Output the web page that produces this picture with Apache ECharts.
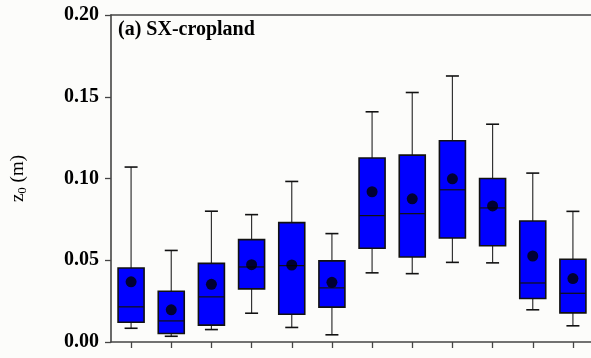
<!DOCTYPE html>
<html>
<head>
<meta charset="utf-8">
<script src="https://cdn.jsdelivr.net/npm/echarts@6/dist/echarts.min.js"></script>
<style>
html,body{margin:0;padding:0;background:#fcfcfa;}
#c{width:591px;height:358px;}
</style>
</head>
<body>
<div id="c"></div>
<script>
var categories = ['1','2','3','4','5','6','7','8','9','10','11','12'];
var whiskerLow = [0.0084,0.0035,0.0076,0.0176,0.0089,0.0044,0.0423,0.0418,0.0487,0.0484,0.0197,0.0099];
var q1Values   = [0.0121,0.0052,0.0103,0.0325,0.0170,0.0213,0.0573,0.0520,0.0636,0.0589,0.0266,0.0178];
var medians    = [0.0215,0.0129,0.0276,0.0459,0.0467,0.0331,0.0773,0.0785,0.0931,0.0820,0.0361,0.0298];
var q3Values   = [0.0453,0.0310,0.0481,0.0626,0.0730,0.0496,0.1125,0.1143,0.1231,0.1000,0.0740,0.0506];
var whiskerHigh= [0.1070,0.0560,0.0800,0.0779,0.0982,0.0663,0.1408,0.1526,0.1627,0.1332,0.1033,0.0799];
var means      = [0.0368,0.0197,0.0353,0.0473,0.0471,0.0365,0.0919,0.0876,0.0998,0.0832,0.0526,0.0388];
var yTicks = ['0.00','0.05','0.10','0.15','0.20'];

var boxData = categories.map(function(c,i){
  return [i, whiskerLow[i], q1Values[i], medians[i], q3Values[i], whiskerHigh[i]];
});
var meanData = categories.map(function(c,i){ return [i, means[i]]; });

var chart = echarts.init(document.getElementById('c'), null, {renderer:'canvas'});
var axisColor = '#444';
function renderBox(params, api){
  var x = api.value(0);
  var pLow = api.coord([x, api.value(1)]);
  var pQ1 = api.coord([x, api.value(2)]);
  var pMed = api.coord([x, api.value(3)]);
  var pQ3 = api.coord([x, api.value(4)]);
  var pHigh = api.coord([x, api.value(5)]);
  var cx = pQ1[0];
  var bw = 26, cw = 13;
  var wStyle = {stroke:'#333', lineWidth:1.2};
  return {
    type:'group',
    children:[
      {type:'line', shape:{x1:cx,y1:pHigh[1],x2:cx,y2:pQ3[1]}, style:wStyle},
      {type:'line', shape:{x1:cx,y1:pQ1[1],x2:cx,y2:pLow[1]}, style:wStyle},
      {type:'line', shape:{x1:cx-cw/2,y1:pHigh[1],x2:cx+cw/2,y2:pHigh[1]}, style:{stroke:'#111', lineWidth:1.6}},
      {type:'line', shape:{x1:cx-cw/2,y1:pLow[1],x2:cx+cw/2,y2:pLow[1]}, style:{stroke:'#111', lineWidth:1.6}},
      {type:'rect', shape:{x:cx-bw/2, y:pQ3[1], width:bw, height:pQ1[1]-pQ3[1]}, style:{fill:'#0000ff', stroke:'#111', lineWidth:1.6}},
      {type:'line', shape:{x1:cx-bw/2,y1:pMed[1],x2:cx+bw/2,y2:pMed[1]}, style:{stroke:'#111', lineWidth:1.2}}
    ]
  };
}

var option = {
  backgroundColor:'#fcfcfa',
  animation:false,
  grid:{left:111, top:15, width:482, bottom:16, containLabel:false, outerBoundsMode:'none'},
  graphic:[{
    type:'text', left:118, top:20,
    style:{text:'(a) SX-cropland', font:'bold 20px "Liberation Serif", "Times New Roman", serif', fill:'#000'}
  }],
  xAxis:[{
    type:'category', data:categories, boundaryGap:true,
    axisLine:{lineStyle:{color:axisColor, width:1.6}},
    axisTick:{show:true, alignWithLabel:true, length:6, lineStyle:{color:axisColor, width:1.3}},
    axisLabel:{show:false},
    splitLine:{show:false}
  },{
    type:'category', data:categories, position:'top', boundaryGap:true,
    axisLine:{show:true, lineStyle:{color:axisColor, width:1.6}},
    axisTick:{show:false}, axisLabel:{show:false}, splitLine:{show:false}
  }],
  yAxis:{
    type:'value', min:0, max:0.2, interval:0.05,
    name:'{z|z}{s|0}{z| (m)}', nameLocation:'middle', nameGap:81, nameRotate:90,
    nameTextStyle:{rich:{
      z:{fontFamily:'"Liberation Serif", serif', fontSize:19, color:'#000', lineHeight:24},
      s:{fontFamily:'"Liberation Serif", serif', fontSize:13, color:'#000', lineHeight:24, padding:[10,0,0,0]}
    }},
    axisLine:{show:true, lineStyle:{color:axisColor, width:1.6}},
    axisTick:{show:true, length:6, lineStyle:{color:axisColor, width:1.3}},
    axisLabel:{margin:12, fontFamily:'"Liberation Serif", serif', fontWeight:'bold', fontSize:20, color:'#000',
      formatter:function(v){ return yTicks[Math.round(v/0.05)]; }},
    splitLine:{show:false}
  },
  series:[
    {type:'custom', renderItem:renderBox, data:boxData, xAxisIndex:0, encode:{x:0, y:[1,2,3,4,5]}, z:2},
    {type:'scatter', data:meanData, xAxisIndex:0, symbol:'circle', symbolSize:11, itemStyle:{color:'#000'}, z:5}
  ]
};
chart.setOption(option);
</script>
</body>
</html>
